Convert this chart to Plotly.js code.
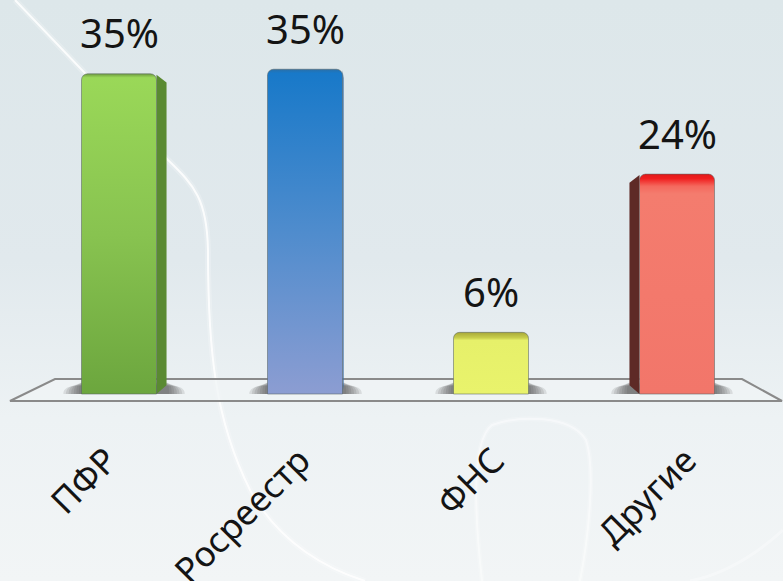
<!DOCTYPE html>
<html><head><meta charset="utf-8">
<script src="https://cdn.plot.ly/plotly-3.0.1.min.js"></script>
<style>
html,body{margin:0;padding:0;width:783px;height:581px;overflow:hidden;background:linear-gradient(180deg,#dde7ea 0%,#e1e9ed 45%,#edf2f4 72%,#f2f5f6 100%)}
#c{width:783px;height:581px}
</style></head><body><div id="c"></div>
<script>
var positions=[0,1,2,3];
var categories=['ПФР','Росреестр','ФНС','Другие'];
var heights=[34.8,35.3,6.7,23.9];
var labels=['35%','35%','6%','24%'];
var flatColors=['#7fbf4d','#4f8ccf','#e6f06a','#f4796b'];
var sideColors=['#5a8a32','#3f6fa5','#b8bd50','#5e2a26'];
var depthX=[0.054,0.006,0,-0.054];
var tickNudgePx=[-12,-5,3,9];
var gradients=[
 [[0,'#6f9c40'],[0.012,'#9ad858'],[0.5,'#88c350'],[1,'#6ca63e']],
 [[0,'#2a6fa8'],[0.012,'#1879c9'],[0.5,'#4f8ccd'],[1,'#8c9dd2']],
 [[0,'#a8a838'],[0.09,'#c9cf4c'],[0.13,'#e6f06a'],[1,'#e9f36c']],
 [[0,'#e01a1a'],[0.02,'#f01e1e'],[0.055,'#f4695e'],[0.09,'#f47c6e'],[1,'#f2766a']]
];
var W=783,H=581,mB=149,pxPerUnit=9.2,zeroPx=394,x0Px=119,unitPx=186,barW=75/186;
function curve(d,color,width,op){return {type:'path',xref:'paper',yref:'paper',layer:'below',path:d,line:{color:color,width:width},opacity:op,fillcolor:'rgba(0,0,0,0)'};}
function P(x,y){return (x/W).toFixed(4)+' '+(1-y/(H-mB)).toFixed(4);}
var mainCurve='M'+P(15,0)+' L'+P(168,160)+' C'+P(195,186)+' '+P(207,200)+' '+P(208,250)+' C'+P(208,350)+' '+P(215,420)+' '+P(250,490)+' C'+P(280,545)+' '+P(330,570)+' '+P(365,581);
var loopCurve='M'+P(482,581)+' C'+P(474,510)+' '+P(472,440)+' '+P(492,425)+' C'+P(520,415)+' '+P(570,415)+' '+P(586,440)+' C'+P(596,470)+' '+P(588,540)+' '+P(580,581);
var cornerCurve='M'+P(783,530)+' C'+P(750,560)+' '+P(720,575)+' '+P(690,581);
var shapes=[
 curve(mainCurve,'#ffffff',6,0.22),
 curve(mainCurve,'#ffffff',2,0.85),
 curve(loopCurve,'#ffffff',5,0.2),
 curve(loopCurve,'#ffffff',2,0.45),
 curve(cornerCurve,'#ffffff',3,0.35)
];
function xData(p){return (p-x0Px)/unitPx;}
function yData(p){return (zeroPx-p)/pxPerUnit;}
var platform='M'+xData(10)+','+yData(401)+' L'+xData(55)+','+yData(379)+' L'+xData(742)+','+yData(379)+' L'+xData(782)+','+yData(401)+' Z';
shapes.push({type:'path',xref:'x',yref:'y',layer:'below',path:platform,fillcolor:'rgba(240,244,246,0.75)',line:{color:'#8a8a8a',width:2}});
positions.forEach(function(x,i){
 var l=x-barW/2,r=x+barW/2,h=heights[i];
 if(depthX[i]>0) r+=depthX[i]; else l+=depthX[i];
 for(var k=0;k<7;k++){
  var o=(k+1)*2.6/unitPx;
  shapes.push({type:'path',xref:'x',yref:'y',layer:'below',
   path:'M'+(l-o)+',0 Q'+(l-o)+','+(1.25-k*0.06)+' '+(l-o*0.2)+','+(1.25-k*0.06)+' L'+(r+o*0.2)+','+(1.25-k*0.06)+' Q'+(r+o)+','+(1.25-k*0.06)+' '+(r+o)+',0 Z',
   fillcolor:'rgba(60,60,60,0.13)',line:{width:0}});
 }
 var dx=depthX[i];
 if(dx!==0){
  var e=dx>0?x+barW/2:x-barW/2,dy=0.95;
  shapes.push({type:'path',xref:'x',yref:'y',layer:'below',
   path:'M'+e+',0 L'+(e+dx)+','+dy+' L'+(e+dx)+','+(h-dy)+' L'+e+','+(h-0.1)+' Z',
   fillcolor:sideColors[i],line:{width:0}});
 }
});
var annotations=positions.map(function(x,i){return {x:x,y:heights[i],xref:'x',yref:'y',text:labels[i],showarrow:false,yanchor:'middle',xanchor:'center',yshift:41,
 font:{family:'Noto Sans, Open Sans, sans-serif',size:40,color:'#141414'}};});
var trace={type:'bar',x:positions,y:heights,width:barW,cliponaxis:false,
 marker:{color:flatColors,cornerradius:6,line:{color:'rgba(90,100,100,0.55)',width:1}},hoverinfo:'skip'};
var layout={width:W,height:H,margin:{l:0,r:0,t:0,b:mB,pad:0},paper_bgcolor:'rgba(0,0,0,0)',plot_bgcolor:'rgba(0,0,0,0)',showlegend:false,
 xaxis:{range:[xData(0),xData(W)],tickmode:'array',tickvals:positions.map(function(x,i){return x+tickNudgePx[i]/unitPx;}),ticktext:categories,tickangle:-45,showgrid:false,zeroline:false,showline:false,ticks:'',
  tickfont:{family:'Noto Sans, Open Sans, sans-serif',size:35,color:'#141414'},automargin:false},
 yaxis:{range:[yData(H-mB),yData(0)],showgrid:false,zeroline:false,showline:false,showticklabels:false,ticks:''},
 shapes:shapes,annotations:annotations};
Plotly.newPlot('c',[trace],layout,{staticPlot:true,displayModeBar:false}).then(function(){
 var svg=document.querySelector('#c .main-svg');
 var ns='http://www.w3.org/2000/svg';
 var defs=svg.querySelector('defs')||svg.insertBefore(document.createElementNS(ns,'defs'),svg.firstChild);
 var paths=document.querySelectorAll('#c .bars .point path');
 gradients.forEach(function(g,i){
  var lg=document.createElementNS(ns,'linearGradient');
  lg.setAttribute('id','barGrad'+i);lg.setAttribute('x1','0');lg.setAttribute('y1','0');lg.setAttribute('x2','0');lg.setAttribute('y2','1');
  g.forEach(function(s){var st=document.createElementNS(ns,'stop');st.setAttribute('offset',s[0]);st.setAttribute('stop-color',s[1]);lg.appendChild(st);});
  defs.appendChild(lg);
  if(paths[i])paths[i].style.fill='url(#barGrad'+i+')';
 });
});
</script></body></html>
